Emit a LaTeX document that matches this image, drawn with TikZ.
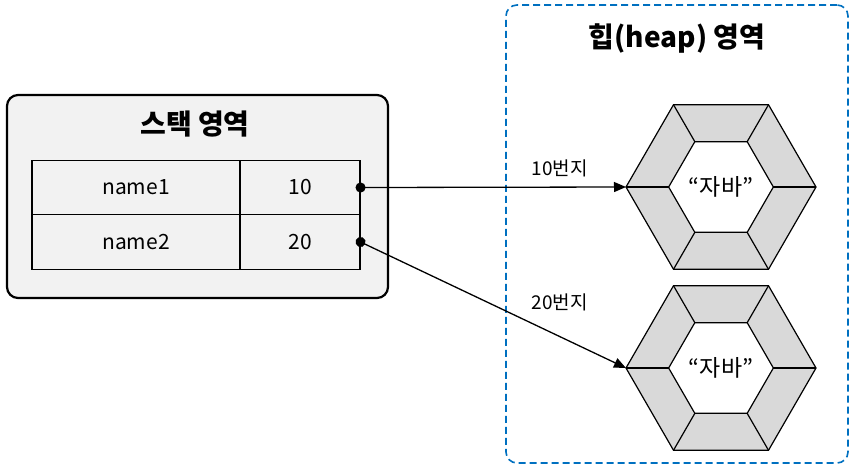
\documentclass[tikz,border=0pt]{standalone}
\usepackage{fontspec}
\setmainfont{Noto Sans CJK KR}
\usepackage{tikz}
\usepackage{xcolor}
\usetikzlibrary{arrows.meta,shapes.geometric}
\definecolor{mmgrey}{HTML}{F2F2F2}
\definecolor{mmhex}{HTML}{D9D9D9}
\definecolor{mmblue}{HTML}{0070C0}
\tikzset{
  stackbox/.style  = {draw=black, fill=mmgrey, rounded corners=11pt,
                      line width=2.2pt},
  heapbox/.style   = {draw=mmblue, dashed, dash pattern=on 7pt off 4pt,
                      rounded corners=11pt, line width=1.6pt},
  title/.style     = {font=\fontsize{28}{32}\selectfont\bfseries, inner sep=0pt},
  cell/.style      = {draw=black, line width=1.1pt, minimum height=54.5pt,
                      inner sep=0pt, font=\fontsize{21}{24}\selectfont},
  hexout/.style    = {regular polygon, regular polygon sides=6, draw=black,
                      fill=mmhex, line width=1.2pt, inner sep=0pt,
                      outer sep=0pt, minimum size=190pt},
  hexin/.style     = {regular polygon, regular polygon sides=6, draw=black,
                      fill=white, line width=1.2pt, inner sep=0pt,
                      outer sep=0pt, minimum size=99pt,
                      font=\fontsize{23}{26}\selectfont},
  ref/.style       = {{Circle[length=10pt]}-{Triangle[length=12pt,width=10pt]},
                      draw=black, line width=1.3pt, shorten <=-5pt},
  lbl/.style       = {font=\fontsize{19}{22}\selectfont, inner sep=1pt},
}
\begin{document}
\begin{tikzpicture}[x=1pt, y=-1pt]
  \useasboundingbox (0,0) rectangle (852,467);

  % ---------- stack area --------------------------------------------------
  \node[stackbox, minimum width=381pt, minimum height=203pt] (stack)
       at (197.5,196.5) {};
  \node[title] (stacktitle) at (195,124) {스택 영역};
  \node[cell, minimum width=208pt] (n1) at (136,187.5) {name1};
  \node[cell, minimum width=120pt] (v1) at (300,187.5) {10};
  \node[cell, minimum width=208pt] (n2) at (136,242) {name2};
  \node[cell, minimum width=120pt] (v2) at (300,242) {20};

  % ---------- heap area ---------------------------------------------------
  \node[heapbox, minimum width=342pt, minimum height=458pt] (heap)
       at (677,234) {};
  \node[title] (heaptitle) at (677,38) {힙(heap) 영역};

  \node[hexout] (java1) at (721,187) {};
  \node[hexin] (java1in) at (java1.center) {“자바”};
  \node[hexout] (java2) at (721,368) {};
  \node[hexin] (java2in) at (java2.center) {“자바”};
  \foreach \k in {1,...,6} {
    \draw[line width=1.2pt] (java1.corner \k) -- (java1in.corner \k);
    \draw[line width=1.2pt] (java2.corner \k) -- (java2in.corner \k);
  }

  % ---------- references --------------------------------------------------
  \draw[ref] (v1.east) -- node[lbl, pos=0.75, above=8pt] {10번지} (java1.west);
  \draw[ref] (v2.east) -- node[lbl, pos=0.75, above=24pt] {20번지} (java2.west);

\end{tikzpicture}
\end{document}
